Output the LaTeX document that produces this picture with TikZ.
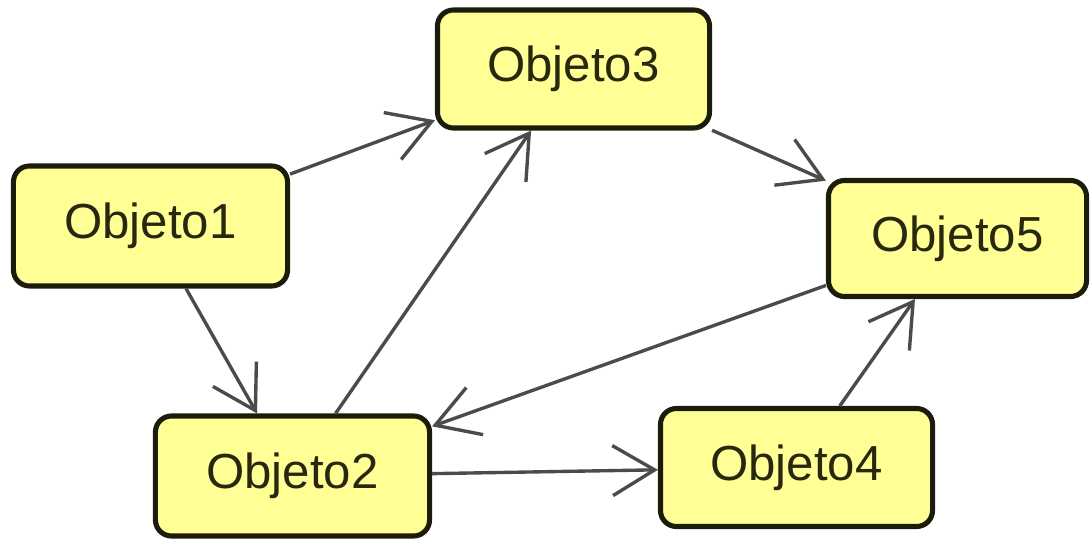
\documentclass[tikz,border=0pt]{standalone}
\usepackage{fontspec}
\setmainfont{Liberation Sans}
\usepackage{tikz}
\usetikzlibrary{arrows.meta}

\definecolor{objfill}{RGB}{255,255,150}
\definecolor{objline}{RGB}{28,28,10}
\definecolor{objtext}{RGB}{40,40,15}
\definecolor{flechagris}{RGB}{75,75,75}

\begin{document}
\begin{tikzpicture}[x=0.025cm, y=0.025cm,
    obj/.style={draw=objline, fill=objfill, line width=3.6pt,
      rounded corners=0.4cm, minimum height=3cm, text=objtext,
      font=\fontsize{35}{42}\selectfont, inner sep=0pt},
    flecha/.style={draw=flechagris, line width=2.4pt,
      -{Straight Barb[length=1.05cm, width=1.25cm]}}]
    \useasboundingbox (0,0) rectangle (1090,539);

    \node [obj, minimum width=6.85cm] (obj1) at (150.5,313) {Objeto1};
    \node [obj, minimum width=6.8cm, minimum height=2.95cm] (obj3) at (573.5,470) {Objeto3};
    \node [obj, minimum width=6.45cm, minimum height=2.9cm] (obj5) at (957.5,300.5) {Objeto5};
    \node [obj, minimum width=6.85cm] (obj2) at (292.5,63) {Objeto2};
    \node [obj, minimum width=6.8cm, minimum height=2.95cm] (obj4) at (796.5,71.5) {Objeto4};

    \draw [flecha] (obj1) -- (obj3);
    \draw [flecha] (obj1) -- (obj2);
    \draw [flecha] (obj2) -- (obj3);
    \draw [flecha] (obj3) -- (obj5);
    \draw [flecha] (obj5) -- (obj2);
    \draw [flecha] (obj2) -- (obj4);
    \draw [flecha] (obj4) -- (obj5);
  \end{tikzpicture}
\end{document}
